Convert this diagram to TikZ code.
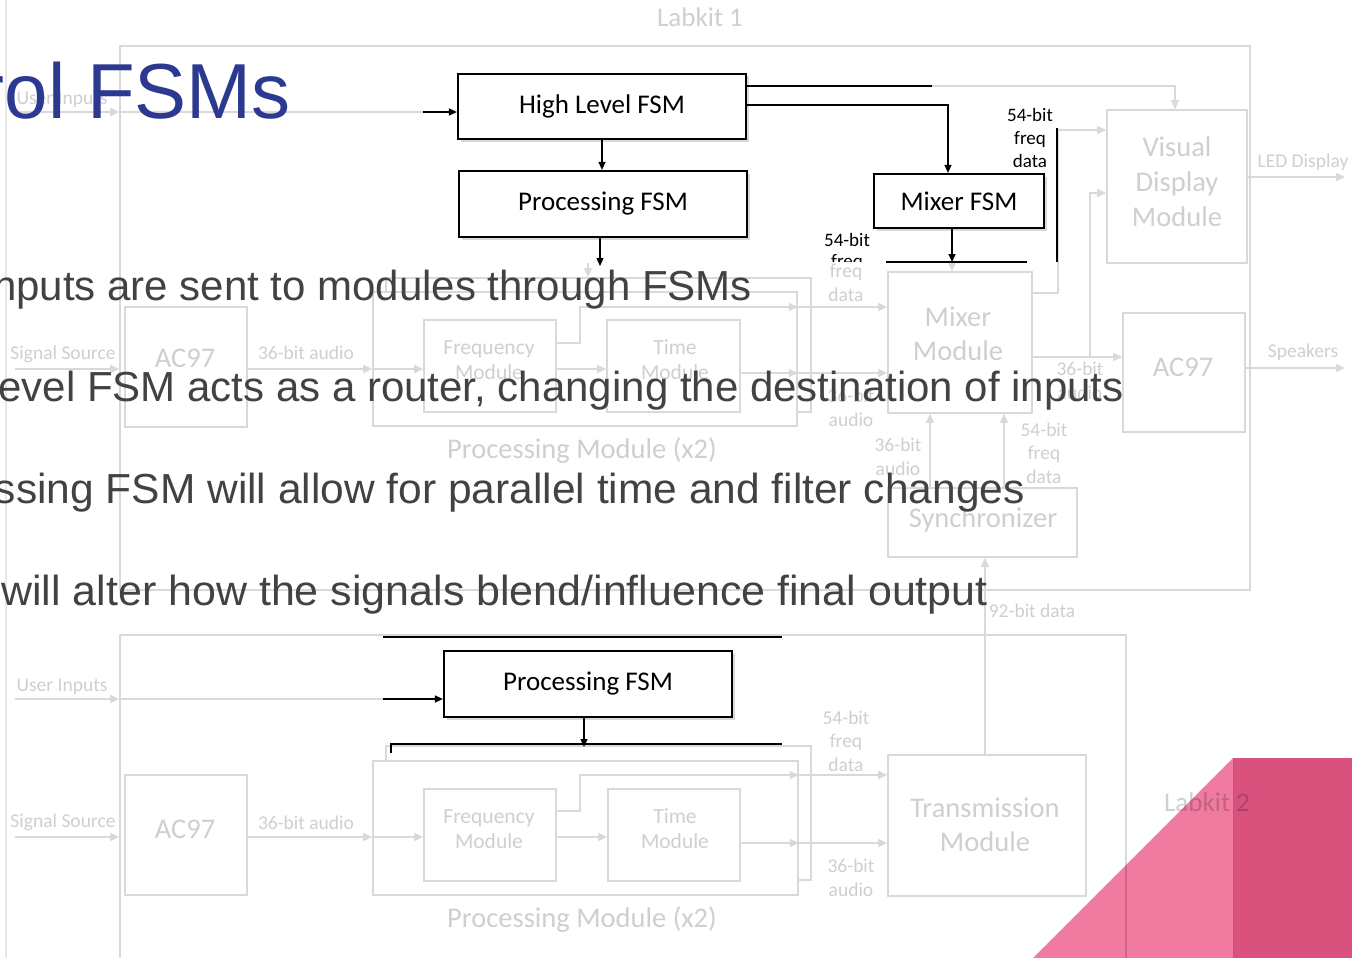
\documentclass[tikz,border=0pt]{standalone}
\usepackage{fontspec}
\setmainfont{Liberation Sans}
\newfontfamily\calfont{Carlito}
\usetikzlibrary{arrows.meta,shadows}

\definecolor{lineg}{HTML}{D9D9D9}
\definecolor{textg}{HTML}{CFCFCF}
\definecolor{titleblue}{HTML}{2B3990}
\definecolor{bodygray}{HTML}{424242}
\definecolor{pinklight}{HTML}{F07AA0}
\definecolor{pinkdark}{HTML}{D9527E}

\newcommand\fbig{\calfont\fontsize{28.5}{34}\selectfont}
\newcommand\fmid{\calfont\fontsize{21.5}{25}\selectfont}
\newcommand\fsmall{\calfont\fontsize{19.5}{23.5}\selectfont}
\newcommand\flabkit{\calfont\fontsize{27}{30}\selectfont}

\begin{document}
\begin{tikzpicture}[x=1pt,y=-1pt,
  gbox/.style={draw=lineg,line width=1.6pt,fill=white,inner sep=0pt},
  gframe/.style={draw=lineg,line width=1.6pt,inner sep=0pt},
  gtxt/.style={text=textg,inner sep=0pt,align=center,font=\fsmall},
  gbig/.style={gtxt,font=\fbig},
  gmid/.style={gtxt,font=\fmid},
  gline/.style={draw=lineg,line width=1.4pt},
  garr/.style={gline,-{Triangle[length=9pt,width=8pt]}},
  fsm/.style={draw=black,line width=2.2pt,fill=white,inner sep=0pt,
    font=\calfont\fontsize{27}{30}\selectfont,
    drop shadow={shadow xshift=2.5pt,shadow yshift=-2.5pt,opacity=0.3}},
  bline/.style={draw=black,line width=1.3pt},
  barr/.style={bline,-{Triangle[length=8pt,width=7pt]}},
  btxt/.style={inner sep=0pt,align=center,font=\calfont\fontsize{19}{23}\selectfont},
  bullet/.style={text=bodygray,inner sep=0pt,anchor=base east,font=\fontsize{42}{50}\selectfont},
]
\useasboundingbox (0,0) rectangle (1352,958);
\fill[white] (0,0) rectangle (1352,958);
\coordinate (edgeT) at (6,0);
\coordinate (edgeB) at (6,958);
\draw[lineg!60,line width=1.2pt] (edgeT) -- (edgeB);

% ---------------- Labkit 1 (grey block diagram) ----------------
\node[gframe,minimum width=1130pt,minimum height=544pt] (lk1) at (685,318) {};
\node[gtxt,font=\flabkit] (lk1lbl) at (700,17) {Labkit 1};

\node[gbox,minimum width=122pt,minimum height=120pt] (acl) at (186,367) {};
\node[gbig] (acllbl) at (185,358) {AC97};
\node[gbox,minimum width=425pt,minimum height=134pt] (pmb) at (598.5,345) {};
\node[gbox,minimum width=424pt,minimum height=134pt] (pmf) at (585,359) {};
\node[gbox,minimum width=132pt,minimum height=92pt] (fm) at (490,366) {};
\node[gmid] (fmlbl) at (489,360) {Frequency\\Module};
\node[gbox,minimum width=133pt,minimum height=92pt] (tm) at (673.5,366) {};
\node[gmid] (tmlbl) at (675,360) {Time\\Module};
\node[gbig] (pmlbl) at (582,451) {Processing Module (x2)};

\node[gbox,minimum width=144pt,minimum height=141pt] (mix) at (960,342.5) {};
\node[gbig] (mixlbl) at (958,334) {Mixer\\Module};
\node[gbox,minimum width=189pt,minimum height=69pt] (sync) at (982.5,522.5) {};
\node[gbig] (synclbl) at (983,520) {Synchronizer};
\node[gbox,minimum width=140pt,minimum height=153pt] (vd) at (1177,186.5) {};
\node[gbig,font=\calfont\fontsize{28.5}{35}\selectfont] (vdlbl) at (1177,182) {Visual\\Display\\Module};
\node[gbox,minimum width=122pt,minimum height=119pt] (acr) at (1184,372.5) {};
\node[gbig] (acrlbl) at (1183,367) {AC97};

\node[gtxt] (uil) at (62,100) {User Inputs};
\node[gtxt] (ssl) at (63,354) {Signal Source};
\node[gtxt] (a36l) at (306,353) {36-bit audio};
\node[gtxt] (ledl) at (1303,162) {LED Display};
\node[gtxt] (spkl) at (1303,352) {Speakers};
\node[gtxt] (fdl) at (846,283) {freq\\data};
\node[gtxt] (a36ml) at (851,408) {36-bit\\audio};
\node[gtxt] (a36sl) at (898,457) {36-bit\\audio};
\node[gtxt] (f54sl) at (1044,453) {54-bit\\freq\\data};
\node[gtxt] (a36rl) at (1080,381) {36-bit\\audio};
\node[gtxt] (d92l) at (1032,611) {92-bit data};

% grey connectors
\coordinate (ui1s) at (15,112);
\coordinate (ui1b) at (423,112);
\draw[garr] (ui1s) -- (lk1.west |- ui1s);
\draw[gline] (lk1.west |- ui1s) -- (ui1b);
\coordinate (ss1) at (15,369);
\draw[garr] (ss1) -- (lk1.west |- ss1);
\draw[garr] (acl.east |- ss1) -- (pmf.west |- ss1);
\draw[garr] (pmf.west |- ss1) -- (fm.west |- ss1);
\draw[garr] (fm.east |- ss1) -- (tm.west |- ss1);
\coordinate (fbend) at (580,343);
\coordinate (fqy) at (580,307);
\draw[garr] (fm.east |- fbend) -- (fbend) -- (fqy) -- (pmf.east |- fqy);
\draw[garr] (pmf.east |- fqy) -- (mix.west |- fqy);
\coordinate (tmy) at (740,373);
\draw[garr] (tm.east |- tmy) -- (pmf.east |- tmy);
\draw[garr] (pmf.east |- tmy) -- (mix.west |- tmy);
\coordinate (pdn) at (588,263);
\draw[garr] (pdn) -- (pmb.north -| pdn);
\coordinate (mdn) at (952,261);
\draw[garr] (mdn) -- (mix.north -| mdn);
\coordinate (mv1) at (1058,293);
\coordinate (mv2) at (1058,130);
\draw[garr] (mix.east |- mv1) -- (mv1) -- (mv2) -- (vd.west |- mv2);
\coordinate (ma) at (1090,357);
\coordinate (mv3) at (1090,193);
\draw[garr] (mix.east |- ma) -- (acr.west |- ma);
\draw[garr] (ma) -- (mv3) -- (vd.west |- mv3);
\coordinate (hb1) at (932,86);
\coordinate (vdin) at (1175,86);
\draw[garr] (hb1) -- (vdin) -- (vd.north -| vdin);
\coordinate (led) at (1345,177);
\draw[garr] (vd.east |- led) -- (led);
\coordinate (spk) at (1345,368);
\draw[garr] (acr.east |- spk) -- (spk);
\coordinate (sx1) at (930,450);
\coordinate (sx2) at (1004,450);
\draw[garr] (sync.north -| sx1) -- (mix.south -| sx1);
\draw[garr] (sync.north -| sx2) -- (mix.south -| sx2);

% ---------------- Labkit 2 (grey block diagram) ----------------
\node[gframe,minimum width=1006pt,minimum height=340pt] (lk2) at (623,805) {};
\node[gtxt,font=\flabkit] (lk2lbl) at (1207,802) {Labkit 2};
\node[gbox,minimum width=122pt,minimum height=120pt] (acl2) at (186,835) {};
\node[gbig] (acl2lbl) at (185,829) {AC97};
\node[gbox,minimum width=425pt,minimum height=134pt] (pmb2) at (598.5,813) {};
\node[gbox,minimum width=425pt,minimum height=134pt] (pmf2) at (585.5,828) {};
\node[gbox,minimum width=132pt,minimum height=92pt] (fm2) at (490,835) {};
\node[gmid] (fm2lbl) at (489,829) {Frequency\\Module};
\node[gbox,minimum width=132pt,minimum height=92pt] (tm2) at (674,835) {};
\node[gmid] (tm2lbl) at (675,829) {Time\\Module};
\node[gbig] (pml2) at (582,920) {Processing Module (x2)};
\node[gbox,minimum width=198pt,minimum height=141pt] (trans) at (987,825.5) {};
\node[gbig] (translbl) at (985,825) {Transmission\\Module};

\node[gtxt] (ui2l) at (62,687) {User Inputs};
\node[gtxt] (ss2l) at (63,822) {Signal Source};
\node[gtxt] (a36l2) at (306,823) {36-bit audio};
\node[gtxt] (f54l2) at (846,741) {54-bit\\freq\\data};
\node[gtxt] (a36l3) at (851,878) {36-bit\\audio};

\coordinate (ui2s) at (15,699);
\coordinate (ui2b) at (383,699);
\draw[garr] (ui2s) -- (lk2.west |- ui2s);
\draw[gline] (lk2.west |- ui2s) -- (ui2b);
\coordinate (ss2) at (15,837);
\draw[garr] (ss2) -- (lk2.west |- ss2);
\draw[garr] (acl2.east |- ss2) -- (pmf2.west |- ss2);
\draw[garr] (pmf2.west |- ss2) -- (fm2.west |- ss2);
\draw[garr] (fm2.east |- ss2) -- (tm2.west |- ss2);
\coordinate (fb2) at (580,811);
\coordinate (fq2) at (580,775);
\draw[garr] (fm2.east |- fb2) -- (fb2) -- (fq2) -- (pmf2.east |- fq2);
\draw[garr] (pmf2.east |- fq2) -- (trans.west |- fq2);
\coordinate (tmy2) at (740,843);
\draw[garr] (tm2.east |- tmy2) -- (pmf2.east |- tmy2);
\draw[garr] (pmf2.east |- tmy2) -- (trans.west |- tmy2);
\coordinate (tx) at (985,650);
\draw[garr] (trans.north -| tx) -- (sync.south -| tx);

% ---------------- FSM control layer (black) ----------------
\node[fsm,minimum width=288pt,minimum height=65pt] (hl) at (602,106.5) {High Level FSM};
\node[fsm,minimum width=288pt,minimum height=66pt] (pf1) at (603,204) {Processing FSM};
\node[fsm,minimum width=170pt,minimum height=54pt] (mf) at (959,201) {Mixer FSM};
\draw[barr] (ui1b) -- (hl.west |- ui1b);
\draw[barr] (hl.south) -- (hl.south |- pf1.north);
\coordinate (pfo) at (600,266);
\draw[barr] (pf1.south -| pfo) -- (pfo);
\draw[bline] (hl.east |- hb1) -- (hb1);
\coordinate (hb2) at (948,105);
\draw[barr] (hl.east |- hb2) -- (hb2) -- (mf.north -| hb2);
\coordinate (mfo) at (952,262);
\draw[barr] (mf.south -| mfo) -- (mfo);
\coordinate (bl1) at (886,262);
\coordinate (bl2) at (1027,262);
\draw[black,line width=1.5pt] (bl1) -- (bl2);
\coordinate (bv1) at (1057,128);
\coordinate (bv2) at (1057,262);
\draw[black,line width=1.5pt] (bv1) -- (bv2);
\node[btxt] (b54a) at (1030,138) {54-bit\\freq\\data};
\node[btxt] (b54b) at (847,240) {54-bit};
\begin{scope}
  \clip (815,250) rectangle (880,261.5);
  \node[btxt] (b54c) at (847,263) {freq};
\end{scope}

\node[fsm,minimum width=288pt,minimum height=66pt] (pf2) at (588,684) {Processing FSM};
\coordinate (bt1) at (383,637);
\coordinate (bt2) at (782,637);
\draw[black,line width=2pt] (bt1) -- (bt2);
\draw[barr] (ui2b) -- (pf2.west |- ui2b);
\coordinate (pdo) at (584,747);
\draw[barr] (pf2.south -| pdo) -- (pdo);
\coordinate (bb1) at (391,753);
\coordinate (bb2) at (391,744);
\coordinate (bb3) at (782,744);
\draw[black,line width=2pt] (bb1) -- (bb2) -- (bb3);

% ---------------- slide text ----------------
\node[anchor=base east,text=titleblue,inner sep=0pt,font=\fontsize{78}{90}\selectfont] (title) at (291,118) {rol FSMs};
\node[bullet] (l1) at (752,300) {nputs are sent to modules through FSMs};
\node[bullet] (l2) at (1124,401) {evel FSM acts as a router, changing the destination of inputs};
\node[bullet] (l3) at (1025,503) {\scalebox{1.012}[1]{ssing FSM will allow for parallel time and filter changes}};
\node[bullet] (l4) at (988,605) {\scalebox{1.023}[1]{will alter how the signals blend/influence final output}};

% ---------------- corner accent ----------------
\coordinate (pk1) at (1033,958);
\coordinate (pk2) at (1233,758);
\coordinate (pk3) at (1233,958);
\coordinate (pk4) at (1352,958);
\begin{scope}[blend mode=multiply]
  \fill[pinklight] (pk1) -- (pk2) -- (pk3) -- cycle;
  \fill[pinkdark] (pk2) rectangle (pk4);
\end{scope}
\end{tikzpicture}
\end{document}
